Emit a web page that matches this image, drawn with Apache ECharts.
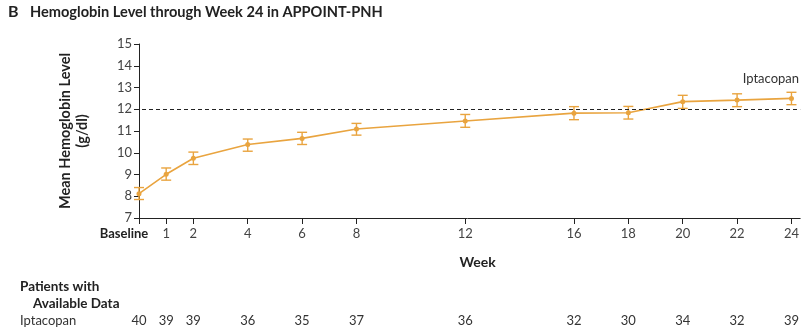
<!DOCTYPE html>
<html>
<head>
<meta charset="utf-8">
<script src="https://cdn.jsdelivr.net/npm/echarts@6/dist/echarts.min.js"></script>
<style>
html,body{margin:0;padding:0;background:#fff;}
#c{width:802px;height:329px;}
</style>
</head>
<body>
<div id="c"></div>
<script>
const weeks = [0, 1, 2, 4, 6, 8, 12, 16, 18, 20, 22, 24];
const meanHb = [8.12, 9.01, 9.75, 10.38, 10.66, 11.09, 11.46, 11.82, 11.84, 12.35, 12.42, 12.50];
const lowerHb = [7.85, 8.74, 9.46, 10.07, 10.38, 10.81, 11.17, 11.52, 11.55, 12.04, 12.12, 12.21];
const upperHb = [8.40, 9.30, 10.03, 10.63, 10.94, 11.35, 11.76, 12.12, 12.13, 12.64, 12.71, 12.78];
const patients = [40, 39, 39, 36, 35, 37, 36, 32, 30, 34, 32, 39];
const yTicks = [7, 8, 9, 10, 11, 12, 13, 14, 15];
const threshold = 12;
const seriesName = 'Iptacopan';

const orange = '#E9A43F';
const font = 'Lato, "Open Sans", sans-serif';

const chart = echarts.init(document.getElementById('c'), null, {renderer: 'canvas'});

const lineData = weeks.map((w, i) => [w, meanHb[i]]);
const errData = weeks.map((w, i) => [w, lowerHb[i], upperHb[i]]);
const countMap = {};
weeks.forEach((w, i) => { countMap[w] = patients[i]; });

chart.setOption({
  animation: false,
  backgroundColor: '#fff',
  textStyle: {fontFamily: font},
  graphic: [
    {type: 'text', left: 8, top: 4, style: {text: 'B', font: 'bold 16px ' + font, fill: '#222'}},
    {type: 'text', left: 30, top: 5, style: {text: 'Hemoglobin Level through Week 24 in APPOINT-PNH', font: 'bold 14.6px ' + font, fill: '#222'}},
    {type: 'text', left: 20, top: 280, style: {text: 'Patients with', font: 'bold 13.5px ' + font, fill: '#222'}},
    {type: 'text', left: 33, top: 297, style: {text: 'Available Data', font: 'bold 13.5px ' + font, fill: '#222'}},
    {type: 'text', left: 20, top: 314, style: {text: seriesName, font: '13px ' + font, fill: '#333'}},
    {type: 'text', right: 3, top: 72, style: {text: seriesName, font: '13px ' + font, fill: '#333'}}
  ],
  grid: {left: 135, right: 0, top: 44, bottom: 111, containLabel: false},
  xAxis: [
    {
      type: 'value', min: -0.147, max: 24.32,
      name: 'Week', nameLocation: 'middle', nameGap: 37,
      nameTextStyle: {fontWeight: 'bold', fontSize: 14, color: '#222', padding: [0, 0, 0, 20]},
      axisLine: {show: true, lineStyle: {color: '#222', width: 1}},
      axisTick: {show: true, length: 6, lineStyle: {color: '#222'}, customValues: weeks},
      axisLabel: {
        customValues: weeks, fontSize: 13, color: '#444', margin: 9,
        formatter: v => v === 0 ? '{b|Baseline}' : String(v),
        rich: {b: {fontWeight: 'bold', fontSize: 13, color: '#222', padding: [0, 30, 0, 0]}}
      },
      splitLine: {show: false}
    },
    {
      type: 'value', min: -0.147, max: 24.32, position: 'bottom', offset: 88,
      axisLine: {show: false}, axisTick: {show: false}, splitLine: {show: false},
      axisLabel: {customValues: weeks, fontSize: 13, color: '#333', formatter: v => String(countMap[v])}
    }
  ],
  yAxis: {
    type: 'value', min: 7, max: 15, interval: 1,
    name: 'Mean Hemoglobin Level\n(g/dl)', nameLocation: 'middle', nameRotate: 90, nameGap: 44,
    nameTextStyle: {fontWeight: 'bold', fontSize: 14.5, color: '#222', lineHeight: 17},
    axisLine: {show: true, lineStyle: {color: '#222', width: 1}},
    axisTick: {show: true, length: 5, lineStyle: {color: '#222'}},
    axisLabel: {fontSize: 13, color: '#444', margin: 3, formatter: v => yTicks.includes(v) ? String(v) : ''},
    splitLine: {show: false}
  },
  series: [
    {
      name: seriesName, type: 'line', data: lineData,
      symbol: 'circle', symbolSize: 5,
      lineStyle: {color: orange, width: 1.6},
      itemStyle: {color: orange},
      z: 3,
      markLine: {
        silent: true, symbol: 'none', label: {show: false},
        lineStyle: {color: '#222', type: [4, 3], width: 1.2},
        data: [{yAxis: threshold}]
      }
    },
    {
      type: 'custom', data: errData, z: 4,
      renderItem: (params, api) => {
        const x = api.value(0);
        const lo = api.coord([x, api.value(1)]);
        const hi = api.coord([x, api.value(2)]);
        const w = 5;
        const st = {stroke: orange, lineWidth: 1.4};
        return {type: 'group', children: [
          {type: 'line', shape: {x1: lo[0], y1: lo[1], x2: hi[0], y2: hi[1]}, style: st},
          {type: 'line', shape: {x1: lo[0] - w, y1: lo[1], x2: lo[0] + w, y2: lo[1]}, style: st},
          {type: 'line', shape: {x1: hi[0] - w, y1: hi[1], x2: hi[0] + w, y2: hi[1]}, style: st}
        ]};
      }
    }
  ]
});
</script>
</body>
</html>
